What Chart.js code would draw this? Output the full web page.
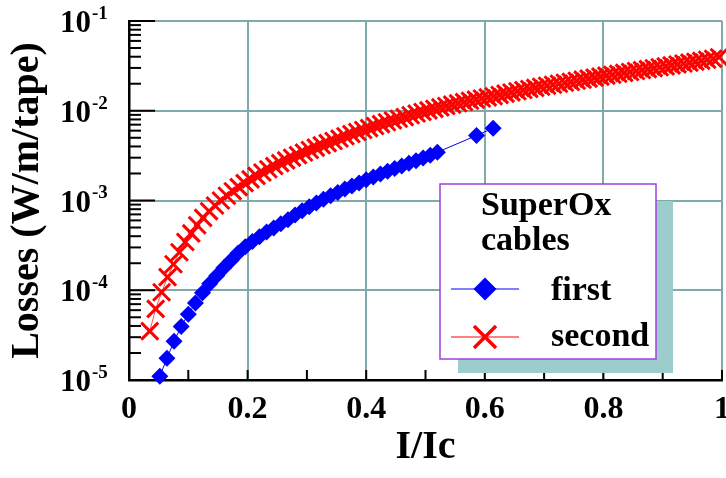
<!DOCTYPE html>
<html lang="en">
<head>
  <meta charset="UTF-8" />
  <title>Losses vs I/Ic</title>
  <script src="https://cdn.jsdelivr.net/npm/chart.js"></script>
  <style>
    body { margin: 0; background: #fff; }
    canvas { display: block; }
  </style>
</head>
<body>
  <canvas id="lossChart" width="726" height="478"></canvas>
  <script>
    // first cable (blue diamonds)
    const firstX = [0.052, 0.064, 0.076, 0.088, 0.100, 0.112, 0.124, 0.136, 0.148, 0.160,
      0.172, 0.184, 0.196, 0.208, 0.220, 0.232, 0.244, 0.256, 0.268, 0.280,
      0.292, 0.304, 0.316, 0.328, 0.340, 0.352, 0.364, 0.376, 0.388, 0.400,
      0.412, 0.424, 0.436, 0.448, 0.460, 0.472, 0.484, 0.496, 0.508, 0.520,
      0.586, 0.614];
    const firstLoss = [1.1e-5, 1.75e-5, 2.7e-5, 3.95e-5, 5.4e-5, 7.2e-5, 9.4e-5, 1.18e-4, 1.45e-4, 1.78e-4,
      2.15e-4, 2.6e-4, 3.05e-4, 3.5e-4, 3.95e-4, 4.45e-4, 4.95e-4, 5.5e-4, 6.1e-4, 6.9e-4,
      7.7e-4, 8.5e-4, 9.4e-4, 1.03e-3, 1.13e-3, 1.23e-3, 1.34e-3, 1.45e-3, 1.57e-3, 1.7e-3,
      1.83e-3, 1.97e-3, 2.12e-3, 2.27e-3, 2.43e-3, 2.6e-3, 2.78e-3, 2.98e-3, 3.2e-3, 3.45e-3,
      5.3e-3, 6.4e-3];

    // second cable (red crosses)
    const secondX = [0.035, 0.045, 0.055, 0.065, 0.075, 0.085, 0.095, 0.105, 0.115, 0.125,
      0.135, 0.145, 0.155, 0.165, 0.175, 0.185, 0.195, 0.205, 0.215, 0.225,
      0.235, 0.245, 0.255, 0.265, 0.275, 0.285, 0.295, 0.305, 0.315, 0.325,
      0.335, 0.345, 0.355, 0.365, 0.375, 0.385, 0.395, 0.405, 0.415, 0.425,
      0.435, 0.445, 0.455, 0.465, 0.475, 0.485, 0.495, 0.505, 0.515, 0.525,
      0.535, 0.545, 0.555, 0.565, 0.575, 0.585, 0.595, 0.605, 0.615, 0.625,
      0.635, 0.645, 0.655, 0.665, 0.675, 0.685, 0.695, 0.705, 0.715, 0.725,
      0.735, 0.745, 0.755, 0.765, 0.775, 0.785, 0.795, 0.805, 0.815, 0.825,
      0.835, 0.845, 0.855, 0.865, 0.875, 0.885, 0.895, 0.905, 0.915, 0.925,
      0.935, 0.945, 0.955, 0.965, 0.975, 0.985, 0.995];
    const secondLoss = [3.5e-5, 6.2e-5, 9.5e-5, 1.4e-4, 1.95e-4, 2.65e-4, 3.45e-4, 4.3e-4, 5.3e-4, 6.4e-4,
      7.6e-4, 8.8e-4, 1.0e-3, 1.13e-3, 1.27e-3, 1.41e-3, 1.56e-3, 1.72e-3, 1.88e-3, 2.05e-3,
      2.23e-3, 2.42e-3, 2.61e-3, 2.8e-3, 3.0e-3, 3.2e-3, 3.42e-3, 3.65e-3, 3.88e-3, 4.12e-3,
      4.36e-3, 4.6e-3, 4.9e-3, 5.2e-3, 5.5e-3, 5.8e-3, 6.1e-3, 6.4e-3, 6.75e-3, 7.1e-3,
      7.45e-3, 7.8e-3, 8.15e-3, 8.5e-3, 8.9e-3, 9.3e-3, 9.7e-3, 1.01e-2, 1.05e-2, 1.09e-2,
      1.13e-2, 1.17e-2, 1.21e-2, 1.25e-2, 1.29e-2, 1.33e-2, 1.37e-2, 1.41e-2, 1.45e-2, 1.5e-2,
      1.55e-2, 1.6e-2, 1.65e-2, 1.7e-2, 1.75e-2, 1.8e-2, 1.85e-2, 1.9e-2, 1.95e-2, 2.0e-2,
      2.05e-2, 2.1e-2, 2.16e-2, 2.22e-2, 2.28e-2, 2.34e-2, 2.4e-2, 2.46e-2, 2.52e-2, 2.58e-2,
      2.64e-2, 2.7e-2, 2.77e-2, 2.84e-2, 2.91e-2, 2.98e-2, 3.05e-2, 3.12e-2, 3.2e-2, 3.28e-2,
      3.36e-2, 3.44e-2, 3.52e-2, 3.6e-2, 3.7e-2, 3.8e-2, 3.95e-2];

    const xTickValues = [0, 0.2, 0.4, 0.6, 0.8, 1];
    const xTickLabels = ['0', '0.2', '0.4', '0.6', '0.8', '1'];
    const yDecades = [1e-5, 1e-4, 1e-3, 1e-2, 1e-1];
    const yExponents = ['-5', '-4', '-3', '-2', '-1'];
    const yMinorSteps = [2, 3, 4, 5, 6, 7, 8, 9];
    const legendTitle = ['SuperOx', 'cables'];
    const seriesNames = ['first', 'second'];

    const SERIF = "'Liberation Serif', 'Times New Roman', serif";
    const GRID = '#7faaaa';

    const yTicks = [];
    yDecades.forEach((d, i) => {
      yTicks.push(d);
      if (i < yDecades.length - 1) yMinorSteps.forEach(m => yTicks.push(d * m));
    });

    const isDecade = v => Math.abs(Math.log10(v) - Math.round(Math.log10(v))) < 1e-6;
    const isMajorX = v => xTickValues.some(t => Math.abs(t - v) < 1e-6);

    function diamond(ctx, x, y, r) {
      ctx.beginPath();
      ctx.moveTo(x, y - r); ctx.lineTo(x + r, y); ctx.lineTo(x, y + r); ctx.lineTo(x - r, y);
      ctx.closePath();
      ctx.fill();
    }

    function cross(ctx, x, y, h) {
      ctx.beginPath();
      ctx.moveTo(x - h, y - h); ctx.lineTo(x + h, y + h);
      ctx.moveTo(x + h, y - h); ctx.lineTo(x - h, y + h);
      ctx.stroke();
    }

    // inward tick marks + y labels with superscript exponents
    const axisDecor = {
      id: 'axisDecor',
      beforeDatasetsDraw(chart) {
        const { ctx, chartArea: a, scales: { x, y } } = chart;
        ctx.save();
        ctx.strokeStyle = '#000';
        ctx.lineWidth = 2;
        x.ticks.forEach(t => {
          const px = x.getPixelForValue(t.value);
          ctx.beginPath(); ctx.moveTo(px, a.bottom); ctx.lineTo(px, a.bottom - 10); ctx.stroke();
        });
        yTicks.forEach(v => {
          const py = y.getPixelForValue(v);
          const len = isDecade(v) ? 26 : 12;
          ctx.beginPath(); ctx.moveTo(a.left, py); ctx.lineTo(a.left + len, py); ctx.stroke();
        });
        ctx.restore();
      },
      afterDraw(chart) {
        const { ctx, scales: { y } } = chart;
        ctx.save();
        ctx.fillStyle = '#000';
        ctx.textBaseline = 'middle';
        yDecades.forEach((d, i) => {
          const py = y.getPixelForValue(d);
          ctx.font = `bold 31px ${SERIF}`;
          ctx.textAlign = 'right';
          ctx.fillText('10', 91, py + 3);
          ctx.font = `bold 19px ${SERIF}`;
          ctx.textAlign = 'left';
          ctx.fillText(yExponents[i], 92, py - 7);
        });
        ctx.restore();
      }
    };

    const boxLegend = {
      id: 'boxLegend',
      afterDraw(chart) {
        const ctx = chart.ctx;
        ctx.save();
        ctx.fillStyle = '#9ccccc';
        ctx.fillRect(458, 201, 215, 172);
        ctx.fillStyle = '#fff';
        ctx.fillRect(440, 184, 216, 175);
        ctx.strokeStyle = '#a040e0';
        ctx.lineWidth = 1.5;
        ctx.strokeRect(440, 184, 216, 175);

        ctx.fillStyle = '#000';
        ctx.font = `bold 34px ${SERIF}`;
        ctx.textAlign = 'left';
        ctx.textBaseline = 'alphabetic';
        ctx.fillText(legendTitle[0], 481, 215);
        ctx.fillText(legendTitle[1], 481, 250);
        ctx.fillText(seriesNames[0], 551, 300);
        ctx.fillText(seriesNames[1], 551, 346);

        ctx.strokeStyle = '#0000ff';
        ctx.lineWidth = 1;
        ctx.beginPath(); ctx.moveTo(451, 289); ctx.lineTo(519, 289); ctx.stroke();
        ctx.fillStyle = '#0000ff';
        diamond(ctx, 485, 289, 11.5);

        ctx.strokeStyle = '#ff8080';
        ctx.lineWidth = 2;
        ctx.beginPath(); ctx.moveTo(451, 337); ctx.lineTo(519, 337); ctx.stroke();
        ctx.strokeStyle = '#ff0000';
        ctx.lineWidth = 3.5;
        cross(ctx, 485, 337, 11);
        ctx.restore();
      }
    };

    new Chart(document.getElementById('lossChart'), {
      type: 'scatter',
      data: {
        datasets: [
          {
            label: seriesNames[0],
            data: firstX.map((x, i) => ({ x, y: firstLoss[i] })),
            showLine: true,
            borderColor: '#0000ff',
            borderWidth: 1,
            pointStyle: 'rectRot',
            pointRadius: 8.5,
            pointBackgroundColor: '#0000ff',
            pointBorderColor: '#0000ff',
            pointBorderWidth: 0,
            clip: false
          },
          {
            label: seriesNames[1],
            data: secondX.map((x, i) => ({ x, y: secondLoss[i] })),
            showLine: true,
            borderColor: '#ff5050',
            borderWidth: 1,
            pointStyle: 'crossRot',
            pointRadius: 12,
            pointBorderColor: '#ff0000',
            pointBorderWidth: 3,
            clip: false
          }
        ]
      },
      options: {
        responsive: false,
        animation: false,
        devicePixelRatio: 1,
        layout: { autoPadding: false, padding: { left: 0, right: 4, top: 21, bottom: 0 } },
        plugins: { legend: { display: false }, tooltip: { enabled: false } },
        scales: {
          x: {
            type: 'linear',
            min: 0,
            max: 1,
            ticks: {
              stepSize: 0.1,
              autoSkip: false,
              maxRotation: 0,
              padding: 11,
              color: '#000',
              font: { family: SERIF, weight: 'bold', size: 32 },
              callback: v => {
                const i = xTickValues.findIndex(t => Math.abs(t - v) < 1e-6);
                return i >= 0 ? xTickLabels[i] : '';
              }
            },
            grid: {
              drawTicks: false,
              lineWidth: 2,
              color: c => (c.tick && isMajorX(c.tick.value) && c.tick.value > 0 ? GRID : 'rgba(0,0,0,0)')
            },
            border: { color: '#000', width: 2.5 },
            title: {
              display: true,
              text: 'I/Ic',
              color: '#000',
              font: { family: SERIF, weight: 'bold', size: 40 },
              padding: { top: 0, bottom: 6 }
            },
            afterFit: s => { s.height = 98; s.paddingLeft = 0; s.paddingRight = 0; }
          },
          y: {
            type: 'logarithmic',
            min: 1e-5,
            max: 1e-1,
            afterBuildTicks: s => { s.ticks = yTicks.map(v => ({ value: v, major: isDecade(v) })); },
            ticks: { display: false },
            grid: {
              drawTicks: false,
              lineWidth: 2,
              color: c => (c.tick && isDecade(c.tick.value) ? GRID : 'rgba(0,0,0,0)')
            },
            border: { color: '#000', width: 2.5 },
            title: {
              display: true,
              text: 'Losses (W/m/tape)',
              color: '#000',
              font: { family: SERIF, weight: 'bold', size: 40 },
              padding: { top: 4, bottom: 0 }
            },
            afterFit: s => { s.width = 129; s.paddingTop = 0; s.paddingBottom = 0; }
          }
        }
      },
      plugins: [axisDecor, boxLegend]
    });
  </script>
</body>
</html>
